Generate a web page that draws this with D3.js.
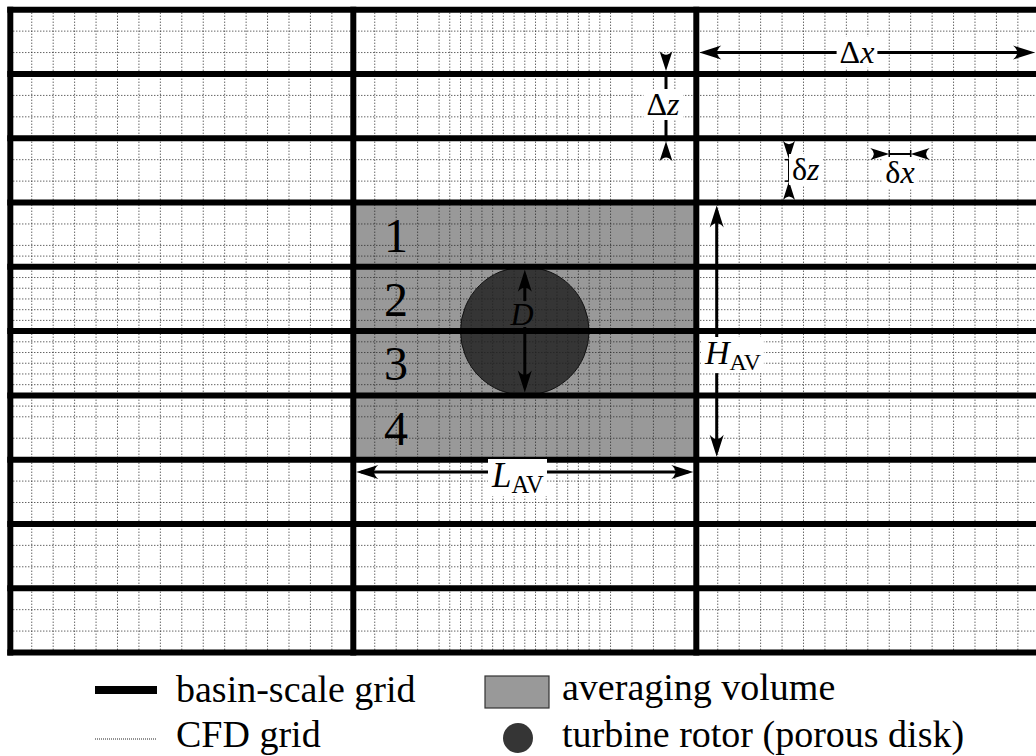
<!DOCTYPE html>
<html>
<head>
<meta charset="utf-8">
<script src="https://cdn.jsdelivr.net/npm/d3@7"></script>
<style>
  body { margin: 0; background: #fff; }
  svg { display: block; }
</style>
</head>
<body>
<svg id="chart" width="1036" height="756" font-family="'Liberation Serif', 'Times New Roman', serif"></svg>
<script>
// Basin-scale grid: 3 coarse columns by 10 coarse rows (boundaries in basin-cell units)
const basinCols = [0, 1, 2, 3];
const basinRows = [0, 1, 2, 3, 4, 5, 6, 7, 8, 9, 10];

// CFD grid as run-lengths of [cell count, cell size] in basin-cell units
const cfdRunsX = [[20, 1 / 16], [16, 1 / 32], [20, 1 / 16]];
const cfdRunsZ = [[11, 1 / 3], [16, 1 / 6], [11, 1 / 3]];

// Averaging volume (basin units) and its numbered cells
const avgVolume = { x0: 1, x1: 2, z0: 3, z1: 7 };
const avgLabels = ["1", "2", "3", "4"];

// Turbine rotor (porous disk): centre and diameter in basin rows
const rotor = { x: 1.5, z: 5, diameter: 2 };

// Legend entries
const legendItems = [
  { key: "basin", text: "basin-scale grid" },
  { key: "cfd", text: "CFD grid" },
  { key: "avg", text: "averaging volume" },
  { key: "rotor", text: "turbine rotor (porous disk)" }
];

const FONT = "'Liberation Serif', 'Times New Roman', serif";
const svg = d3.select("#chart");
const x = d3.scaleLinear().domain([0, 3]).range([10.3, 1039.3]);
const z = d3.scaleLinear().domain([0, 10]).range([9.7, 652.5]);

const THICK = 6;
const GRAY = "#999999";
const DARK = "#353535";

function runsToLines(runs) {
  const out = [];
  let p = 0;
  runs.forEach(([n, s]) => {
    for (let i = 0; i < n; i++) { p += s; out.push(+p.toFixed(6)); }
  });
  return out;
}
const cfdX = runsToLines(cfdRunsX).filter(v => !basinCols.some(b => Math.abs(b - v) < 1e-6));
const cfdZ = runsToLines(cfdRunsZ).filter(v => !basinRows.some(b => Math.abs(b - v) < 1e-6));

// averaging volume fill
svg.append("rect")
  .attr("x", x(avgVolume.x0)).attr("y", z(avgVolume.z0))
  .attr("width", x(avgVolume.x1) - x(avgVolume.x0))
  .attr("height", z(avgVolume.z1) - z(avgVolume.z0))
  .attr("fill", GRAY);

// rotor disk
const rPx = (z(rotor.z + rotor.diameter / 2) - z(rotor.z));
svg.append("circle")
  .attr("cx", x(rotor.x)).attr("cy", z(rotor.z)).attr("r", rPx)
  .attr("fill", DARK).attr("stroke", "#111").attr("stroke-width", 1);

// CFD grid (dotted)
const cfd = svg.append("g")
  .attr("stroke", "#222").attr("stroke-width", 1).attr("stroke-dasharray", "1,2");
cfd.selectAll("line.v").data(cfdX).join("line")
  .attr("x1", d => x(d)).attr("x2", d => x(d))
  .attr("y1", z(0)).attr("y2", z(10));
cfd.selectAll("line.h").data(cfdZ).join("line")
  .attr("y1", d => z(d)).attr("y2", d => z(d))
  .attr("x1", x(0)).attr("x2", x(3));

// basin-scale grid (thick)
const basin = svg.append("g").attr("stroke", "#000").attr("stroke-width", THICK)
  .attr("stroke-linecap", "square");
basin.selectAll("line.v").data(basinCols).join("line")
  .attr("x1", d => x(d)).attr("x2", d => x(d))
  .attr("y1", z(0)).attr("y2", z(10));
basin.selectAll("line.h").data(basinRows).join("line")
  .attr("y1", d => z(d)).attr("y2", d => z(d))
  .attr("x1", x(0)).attr("x2", x(3));

// numbered cells of the averaging volume
svg.selectAll("text.cell").data(avgLabels).join("text")
  .attr("class", "cell")
  .attr("x", 396)
  .attr("y", (d, i) => z(avgVolume.z0 + i + 0.5) + 17)
  .attr("text-anchor", "middle")
  .attr("font-family", FONT)
  .attr("font-size", 48)
  .text(d => d);

// ---- dimension arrows ----
const ann = svg.append("g");

function head(px, py, angleDeg, L = 22, W = 14) {
  ann.append("path")
    .attr("d", `M0,0 L${-L},${-W / 2} Q${-L * 0.62},0 ${-L},${W / 2} Z`)
    .attr("transform", `translate(${px},${py}) rotate(${angleDeg})`)
    .attr("fill", "#000");
}
function stem(x1, y1, x2, y2, w = 3) {
  ann.append("line").attr("x1", x1).attr("y1", y1).attr("x2", x2).attr("y2", y2)
    .attr("stroke", "#000").attr("stroke-width", w);
}
function label(parts, px, py, anchor, size, bg) {
  const t = ann.append("text").attr("x", px).attr("y", py)
    .attr("text-anchor", anchor).attr("font-size", size).attr("font-family", FONT);
  parts.forEach(p => {
    const s = t.append("tspan").text(p.t);
    if (p.it) s.attr("font-style", "italic");
    if (p.sub) s.attr("font-size", size * 0.7).attr("dy", size * 0.18);
  });
  if (bg) {
    const b = t.node().getBBox();
    ann.insert("rect", () => t.node())
      .attr("x", b.x - 3).attr("y", b.y + 3)
      .attr("width", b.width + 6).attr("height", b.height - 5)
      .attr("fill", "#fff");
  }
  return t;
}

const h = THICK / 2;

// Δx : one basin cell width
{
  const y = z(2 / 3), a = x(2) + h, b = 1035;
  stem(a + 5, y, b - 5, y);
  head(a, y, 180); head(b, y, 0);
  label([{ t: "Δ" }, { t: "x", it: true }], 857, y + 10, "middle", 32, true);
}
// Δz : one basin cell height (arrows pointing in)
{
  const px = 666, a = z(1) - h, b = z(2) + h;
  stem(px, a, px, b);
  head(px, a, 90, 20, 13); head(px, b, -90, 20, 13);
  label([{ t: "Δ" }, { t: "z", it: true }], 663, 115, "middle", 32, true);
}
// δz : one CFD cell height
{
  const px = 789, a = z(2 + 1 / 3), b = z(2 + 2 / 3);
  stem(px, a, px, b, 2);
  stem(px - 4, a, px + 4, a, 1.5); stem(px - 4, b, px + 4, b, 1.5);
  head(px, a, 90, 19, 12); head(px, b, -90, 19, 12);
  label([{ t: "δ" }, { t: "z", it: true }], 792, 180, "start", 32, true);
}
// δx : one CFD cell width
{
  const py = 154, a = x(2 + 9 / 16), b = x(2 + 10 / 16);
  stem(a, py, b, py, 2);
  stem(a, py - 4, a, py + 4, 1.5); stem(b, py - 4, b, py + 4, 1.5);
  head(a, py, 0, 19, 12); head(b, py, 180, 19, 12);
  label([{ t: "δ" }, { t: "x", it: true }], 900, 183, "middle", 32, true);
}
// D : rotor diameter
{
  const px = x(rotor.x), a = z(rotor.z - 1) + h, b = z(rotor.z + 1) - h;
  const dLab = label([{ t: "D", it: true }], 522, 325, "middle", 32, false);
  const bb = dLab.node().getBBox();
  stem(px, a + 5, px, bb.y + 5);
  stem(px, bb.y + bb.height - 5, px, b - 5);
  head(px, a, -90); head(px, b, 90);
}
// H_AV : averaging volume height
{
  const px = 716.7, a = z(avgVolume.z0) + h, b = z(avgVolume.z1) - h;
  stem(px, a + 5, px, b - 5);
  head(px, a, -90); head(px, b, 90);
  label([{ t: "H", it: true }, { t: "AV", sub: true }], 705, 364, "start", 34, true);
}
// L_AV : averaging volume length
{
  const py = 472, a = x(avgVolume.x0) + h, b = x(avgVolume.x1) - h;
  stem(a + 5, py, b - 5, py);
  head(a, py, 180); head(b, py, 0);
  label([{ t: "L", it: true }, { t: "AV", sub: true }], 492, 487, "start", 35, true);
}

// ---- legend ----
const lg = svg.append("g");
const LFS = 38;
lg.append("line").attr("x1", 95).attr("x2", 157).attr("y1", 690).attr("y2", 690)
  .attr("stroke", "#000").attr("stroke-width", 8);
lg.append("line").attr("x1", 95).attr("x2", 157).attr("y1", 739).attr("y2", 739)
  .attr("stroke", "#222").attr("stroke-width", 1).attr("stroke-dasharray", "1,1");
lg.append("rect").attr("x", 485).attr("y", 676).attr("width", 64).attr("height", 32)
  .attr("fill", GRAY).attr("stroke", "#333").attr("stroke-width", 1.2);
lg.append("circle").attr("cx", 518).attr("cy", 738).attr("r", 15).attr("fill", DARK);

const legendPos = {
  basin: [176, 702], cfd: [176, 747], avg: [562, 700], rotor: [562, 747]
};
lg.selectAll("text").data(legendItems).join("text")
  .attr("x", d => legendPos[d.key][0]).attr("y", d => legendPos[d.key][1])
  .attr("font-family", FONT)
  .attr("font-size", LFS)
  .text(d => d.text);
</script>
</body>
</html>
